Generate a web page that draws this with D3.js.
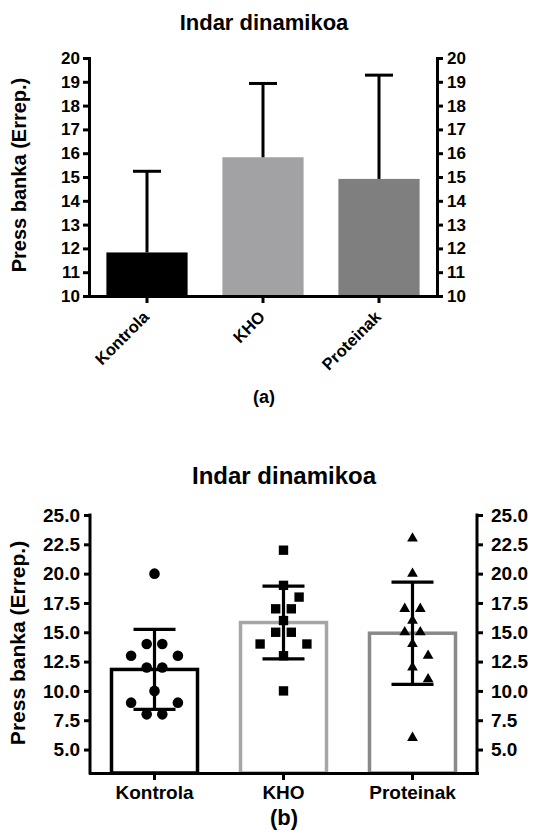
<!DOCTYPE html>
<html>
<head>
<meta charset="utf-8">
<script src="https://cdn.jsdelivr.net/npm/d3@7"></script>
<style>
  html, body { margin: 0; padding: 0; background: #fff; }
  svg { display: block; }
  text { font-family: "Liberation Sans", Arial, sans-serif; font-weight: bold; fill: #000; }
</style>
</head>
<body>
<svg id="chart" width="533" height="834"></svg>
<script>
// ---------- DATA ----------
const categories = ["Kontrola", "KHO", "Proteinak"];
const means = [11.83, 15.83, 14.92];
const sds = [3.41, 3.10, 4.36];
const kontrolaPoints = [20, 14, 14, 13, 13, 12, 12, 10, 9, 9, 8, 8];
const khoPoints = [22, 19, 18, 17, 17, 16, 15, 15, 14, 14, 13, 10];
const proteinakPoints = [23, 20, 17, 17, 16, 15, 15, 14, 13, 12, 11, 6];
const topTicks = [10, 11, 12, 13, 14, 15, 16, 17, 18, 19, 20];
const bottomTicks = [5, 7.5, 10, 12.5, 15, 17.5, 20, 22.5, 25];
const titleText = "Indar dinamikoa";
const yLabelText = "Press banka (Errep.)";
const panelLabels = ["(a)", "(b)"];

// ---------- STYLES ----------
const topFills = ["#000000", "#a2a2a4", "#7f7f7f"];
const bottomStrokes = ["#000000", "#a6a6a6", "#898989"];
const symbols = [d3.symbolCircle, d3.symbolSquare, d3.symbolTriangle];
const symbolSizes = [88, 88, 50];
const minDists = [15, 13.5, 13.5];
const pointSets = [kontrolaPoints, khoPoints, proteinakPoints];

const svg = d3.select("#chart");

function styleAxis(g, fontSize) {
  g.selectAll(".domain").attr("stroke", "#000").attr("stroke-width", 3).attr("stroke-linecap", "square");
  g.selectAll(".tick line").attr("stroke", "#000").attr("stroke-width", 3);
  g.selectAll(".tick text").style("font-size", fontSize + "px").style("font-family", "'Liberation Sans', Arial, sans-serif").style("font-weight", "bold").attr("fill", "#000");
}

// ================= TOP CHART (a) =================
const yTop = d3.scaleLinear().domain([10, 20]).range([296, 58]);
const xTop = d3.scaleBand().domain(categories).range([89, 437]).paddingInner(0.3).paddingOuter(0.15);

svg.append("text").attr("x", 264).attr("y", 30).attr("text-anchor", "middle")
  .style("font-size", "22px").text(titleText);

// bars
svg.append("g").selectAll("rect").data(categories).join("rect")
  .attr("x", d => xTop(d))
  .attr("width", xTop.bandwidth())
  .attr("y", (d, i) => yTop(means[i]))
  .attr("height", (d, i) => yTop(10) - yTop(means[i]))
  .attr("fill", (d, i) => topFills[i]);

// error bars (upper only)
const ebTop = svg.append("g").attr("stroke", "#000").attr("stroke-width", 3);
categories.forEach((c, i) => {
  const cx = xTop(c) + xTop.bandwidth() / 2;
  ebTop.append("line").attr("x1", cx).attr("x2", cx).attr("y1", yTop(means[i])).attr("y2", yTop(means[i] + sds[i]));
  ebTop.append("line").attr("x1", cx - 14).attr("x2", cx + 14).attr("y1", yTop(means[i] + sds[i])).attr("y2", yTop(means[i] + sds[i]));
});

// axes
const gTL = svg.append("g").attr("transform", "translate(89,0)")
  .call(d3.axisLeft(yTop).tickValues(topTicks).tickFormat(d3.format("d")).tickSize(6).tickSizeOuter(0).tickPadding(3));
styleAxis(gTL, 17);
const gTR = svg.append("g").attr("transform", "translate(437,0)")
  .call(d3.axisRight(yTop).tickValues(topTicks).tickFormat(d3.format("d")).tickSize(6).tickSizeOuter(0).tickPadding(4));
styleAxis(gTR, 17);
const gTB = svg.append("g").attr("transform", "translate(0,296)")
  .call(d3.axisBottom(xTop).tickSize(7).tickSizeOuter(0).tickFormat(""));
styleAxis(gTB, 16);

// rotated category labels
svg.append("g").selectAll("text").data(categories).join("text")
  .attr("transform", d => `translate(${xTop(d) + xTop.bandwidth() / 2 + 3},318) rotate(-45)`)
  .attr("text-anchor", "end")
  .style("font-size", "16.5px")
  .text(d => d);

// y label
svg.append("text").attr("transform", "translate(26,175) rotate(-90)").attr("text-anchor", "middle")
  .style("font-size", "20px").text(yLabelText);

svg.append("text").attr("x", 264).attr("y", 403).attr("text-anchor", "middle")
  .style("font-size", "18px").text(panelLabels[0]);

// ================= BOTTOM CHART (b) =================
const yBot = d3.scaleLinear().domain([3, 25]).range([773, 515]);
const xBot = d3.scaleBand().domain(categories).range([90, 477]).paddingInner(1 / 3).paddingOuter(1 / 6);

svg.append("text").attr("x", 284).attr("y", 484).attr("text-anchor", "middle")
  .style("font-size", "24px").text(titleText);

// bars (outlined)
svg.append("g").selectAll("rect").data(categories).join("rect")
  .attr("x", d => xBot(d))
  .attr("width", xBot.bandwidth())
  .attr("y", (d, i) => yBot(means[i]))
  .attr("height", (d, i) => yBot(3) - yBot(means[i]))
  .attr("fill", "none")
  .attr("stroke", (d, i) => bottomStrokes[i])
  .attr("stroke-width", 3.5);

// error bars (mean ± SD)
const ebBot = svg.append("g").attr("stroke", "#000").attr("stroke-width", 3.2);
categories.forEach((c, i) => {
  const cx = xBot(c) + xBot.bandwidth() / 2;
  const yHi = yBot(means[i] + sds[i]), yLo = yBot(means[i] - sds[i]);
  ebBot.append("line").attr("x1", cx).attr("x2", cx).attr("y1", yLo).attr("y2", yHi);
  ebBot.append("line").attr("x1", cx - 21).attr("x2", cx + 21).attr("y1", yHi).attr("y2", yHi);
  ebBot.append("line").attr("x1", cx - 21).attr("x2", cx + 21).attr("y1", yLo).attr("y2", yLo);
});

// swarm layout of individual points
function swarm(values, yScale, cx, u, minDist) {
  const rows = d3.groups(values, v => v).sort((a, b) => b[0] - a[0]);
  const placed = [];
  rows.forEach(([v, arr]) => {
    const n = arr.length;
    const y = yScale(v);
    const cands = [];
    for (let k = 0; k <= 14; k++) {
      if ((k % 2) !== (n % 2 === 0 ? 1 : 0)) continue;
      if (k === 0) cands.push(0); else { cands.push(k); cands.push(-k); }
    }
    arr.forEach(() => {
      for (const k of cands) {
        const x = cx + k * u;
        if (placed.every(p => Math.hypot(p.x - x, p.y - y) >= minDist)) { placed.push({ x, y, v }); break; }
      }
    });
  });
  return placed;
}

const gPts = svg.append("g");
categories.forEach((c, i) => {
  const cx = xBot(c) + xBot.bandwidth() / 2;
  const pts = swarm(pointSets[i], yBot, cx, 7.8, minDists[i]);
  gPts.selectAll(null).data(pts).join("path")
    .attr("transform", d => `translate(${d.x},${d.y})`)
    .attr("d", d3.symbol(symbols[i], symbolSizes[i]))
    .attr("fill", "#000");
});

// axes
const gBL = svg.append("g").attr("transform", "translate(90,0)")
  .call(d3.axisLeft(yBot).tickValues(bottomTicks).tickFormat(d3.format(".1f")).tickSize(6).tickSizeOuter(0).tickPadding(4));
gBL.select(".domain").attr("d", `M0,${yBot(25)}V${yBot(3)}`);
styleAxis(gBL, 19);
const gBR = svg.append("g").attr("transform", "translate(477,0)")
  .call(d3.axisRight(yBot).tickValues(bottomTicks).tickFormat(d3.format(".1f")).tickSize(6).tickSizeOuter(0).tickPadding(8));
gBR.select(".domain").attr("d", `M0,${yBot(25)}V${yBot(3)}`);
styleAxis(gBR, 19);
const gBB = svg.append("g").attr("transform", "translate(0,773)")
  .call(d3.axisBottom(xBot).tickSize(7).tickSizeOuter(0).tickPadding(6));
styleAxis(gBB, 19);
gBB.selectAll(".tick text").attr("dy", "0.71em");

svg.append("text").attr("transform", "translate(25,643) rotate(-90)").attr("text-anchor", "middle")
  .style("font-size", "21px").text(yLabelText);

svg.append("text").attr("x", 284).attr("y", 825).attr("text-anchor", "middle")
  .style("font-size", "22px").text(panelLabels[1]);
</script>
</body>
</html>
